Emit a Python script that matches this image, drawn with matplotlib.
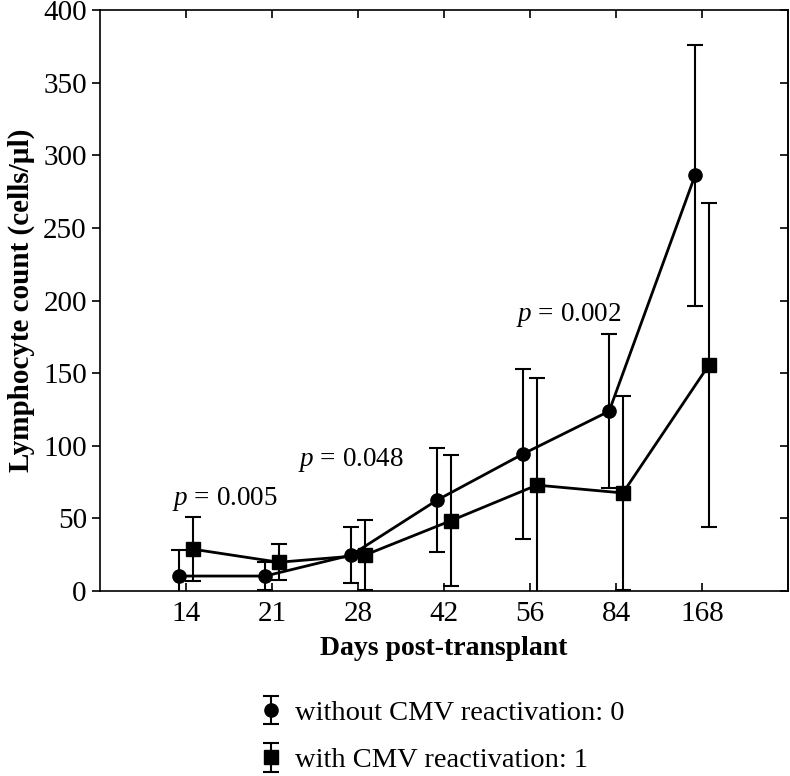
# Lymphocyte count vs days post-transplant, with/without CMV reactivation
import numpy as np
import matplotlib
matplotlib.use('Agg')
import matplotlib.pyplot as plt

plt.rcParams['font.family'] = 'Liberation Serif'
plt.rcParams['mathtext.fontset'] = 'custom'
plt.rcParams['mathtext.rm'] = 'Liberation Serif'
plt.rcParams['mathtext.it'] = 'Liberation Serif:italic'

# Data
days = ['14', '21', '28', '42', '56', '84', '168']
noCMV = [10.3, 10.3, 24.7, 62.6, 94.4, 123.8, 286.3]
noCMV_err = [17.7, 9.7, 19.3, 35.9, 58.5, 53.1, 89.8]
withCMV = [28.8, 19.8, 24.7, 48.4, 72.9, 67.5, 155.6]
withCMV_err = [22.0, 12.5, 24.3, 45.3, 74.0, 66.6, 111.8]
pvals = [('0.005', 1.45, 63), ('0.048', 2.92, 90), ('0.002', 5.45, 190)]

x = np.arange(1, len(days) + 1)
x0 = x - 0.08
x1 = x + 0.08

fig = plt.figure(figsize=(7.9, 7.76), dpi=100)
ax = fig.add_axes([0.1266, 0.2384, 0.8709, 0.7487])

ax.plot(x0, noCMV, color='black', lw=2.0)
ax.plot(x1, withCMV, color='black', lw=2.0)
ax.errorbar(x0, noCMV, yerr=noCMV_err, fmt='o', ls='none', color='black',
            markersize=9.5, elinewidth=1.5, capsize=6, capthick=1.5,
            label='without CMV reactivation: 0')
ax.errorbar(x1, withCMV, yerr=withCMV_err, fmt='s', ls='none', color='black',
            markersize=10, elinewidth=1.5, capsize=6, capthick=1.5,
            label='with CMV reactivation: 1')

for txt, px, py in pvals:
    ax.text(px, py, r'$p$ = ' + txt, fontsize=19.5, ha='center', va='center')

ax.set_xlim(0, 8)
ax.set_ylim(0, 400)
ax.set_xticks(x)
ax.set_xticklabels(days)
ax.set_yticks(np.arange(0, 401, 50))
ax.tick_params(axis='y', which='both', direction='out', length=6, width=1.2,
               labelsize=21, right=False)
ax.tick_params(axis='x', which='both', direction='in', length=6, width=1.2,
               labelsize=21, top=True, pad=7)
# right-side ticks pointing inward
axr = ax.secondary_yaxis('right')
axr.set_yticks(np.arange(0, 401, 50))
axr.tick_params(direction='in', length=6, width=1.2, labelright=False)
for s in ax.spines.values():
    s.set_linewidth(1.2)
for s in axr.spines.values():
    s.set_linewidth(1.2)

ax.set_xlabel('Days post-transplant', fontsize=20, fontweight='bold', labelpad=7)
ax.set_ylabel('Lymphocyte count (cells/\u00b5l)', fontsize=21, fontweight='bold', labelpad=6)

fig.legend(loc='upper left', bbox_to_anchor=(0.312, 0.116), frameon=False,
           fontsize=20.5, handlelength=0.7, handletextpad=0.5, labelspacing=0.75,
           borderpad=0)

fig.savefig('out.png', dpi=100)
